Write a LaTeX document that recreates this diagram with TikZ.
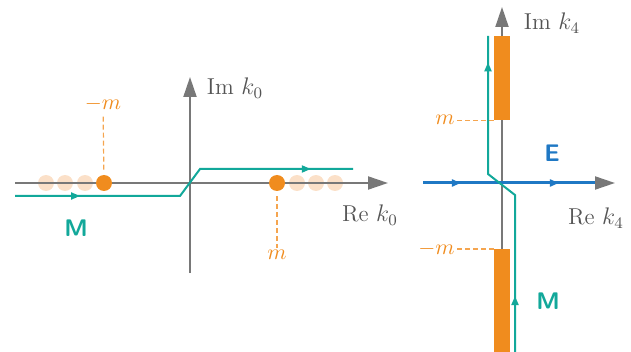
\documentclass[tikz,border=0pt]{standalone}
\usepackage{xcolor}
\usepackage{amsmath}
\usepackage{tikz}
\usetikzlibrary{arrows.meta, decorations.markings}

\definecolor{poleorange}{HTML}{F08C1E}
\definecolor{palepole}{HTML}{FBE0C8}
\definecolor{dashorange}{HTML}{F5A54F}
\definecolor{contourteal}{HTML}{12A89A}
\definecolor{euclblue}{HTML}{1F78C4}
\definecolor{axisgray}{HTML}{787878}

\begin{document}
\begin{tikzpicture}[x=0.5pt, y=-0.5pt,
    axis/.style={draw=axisgray, line width=1pt, -{Triangle[length=10pt, width=6.5pt]}},
    pole/.style={circle, fill=poleorange, inner sep=0pt, minimum size=8pt},
    pale/.style={circle, fill=palepole, inner sep=0pt, minimum size=8pt},
    cutbar/.style={rectangle, fill=poleorange, inner sep=0pt, minimum width=8pt},
    masslabel/.style={text=poleorange, inner sep=1pt, font=\fontsize{11}{13}\selectfont},
    massline/.style={draw=dashorange, line width=0.6pt, dash pattern=on 2.5pt off 1.5pt},
    axislabel/.style={text=axisgray!70!black, font=\fontsize{11.5}{14}\selectfont},
    pathlabel/.style={font=\large\sffamily\bfseries},
    contour/.style={draw=contourteal, line width=1pt},
    arrowsat/.style 2 args={postaction={decorate}, decoration={markings,
        mark=at position #1 with {\arrow{Triangle[length=4.5pt, width=3.5pt]}},
        mark=at position #2 with {\arrow{Triangle[length=4.5pt, width=3.5pt]}}}}
]
\useasboundingbox (0,0) rectangle (631,352);

% Minkowski plane
\coordinate (reL0) at (15,183);
\coordinate (reL1) at (388,183);
\coordinate (imL0) at (190,273);
\coordinate (imL1) at (190,77);

\foreach \x/\n in {46/a, 65/b, 85/c, 297/d, 316/e, 335/f}
  \node[pale] (pale\n) at (\x,183) {};

\draw[axis] (reL0) -- (reL1);
\draw[axis] (imL0) -- (imL1);

\node[pole] (mneg) at (104,183) {};
\node[pole] (mpos) at (277,183) {};
\node[masslabel] (mnegl) at (103,104) {$-m$};
\node[masslabel] (mposl) at (277,255) {$m$};
\draw[massline, shorten <=2.5pt] (mneg) -- (mnegl);
\draw[massline, shorten <=2.5pt] (mpos) -- (mposl);

\coordinate (cL0) at (15,196);
\coordinate (cL1) at (180,196);
\coordinate (cL2) at (200,169);
\coordinate (cL3) at (353,169);
\draw[contour, arrowsat={0.185}{0.88}] (cL0) -- (cL1) -- (cL2) -- (cL3);

\node[pathlabel, text=contourteal] (mlabL) at (76,228) {M};
\node[axislabel] (imlabL) at (235,88) {Im $k_0$};
\node[axislabel] (relabL) at (370,215) {Re $k_0$};

% Euclidean plane
\coordinate (reR0) at (423,183);
\coordinate (reR1) at (615,183);
\coordinate (eR1) at (595,183);
\coordinate (imR0) at (502,352);
\coordinate (imR1) at (502,7);

\draw[axis] (imR0) -- (imR1);
\draw[axis] (reR0) -- (reR1);
\draw[draw=euclblue, line width=1.5pt, arrowsat={0.22}{0.79}] (reR0) -- (eR1);

\node[cutbar, minimum height=42pt, anchor=north] (cutup) at (502,36) {};
\node[cutbar, minimum height=52pt, anchor=north] (cutdn) at (502,249) {};

\node[masslabel, anchor=east] (mupl) at (457,120) {$m$};
\node[masslabel, anchor=east] (mdnl) at (457,249) {$-m$};
\draw[massline] (cutup.south west) -- (cutup.south west -| mupl.east);
\draw[massline] (cutdn.north west) -- (cutdn.north west -| mdnl.east);

\coordinate (cR0) at (515,352);
\coordinate (cR1) at (515,195);
\coordinate (cR2) at (488,174);
\coordinate (cR3) at (488,36);
\draw[contour, arrowsat={0.17}{0.92}] (cR0) -- (cR1) -- (cR2) -- (cR3);

\node[pathlabel, text=euclblue] (elab) at (552,153) {E};
\node[pathlabel, text=contourteal] (mlabR) at (548,301) {M};
\node[axislabel] (imlabR) at (552,23) {Im $k_4$};
\node[axislabel] (relabR) at (596,218) {Re $k_4$};

\end{tikzpicture}
\end{document}
